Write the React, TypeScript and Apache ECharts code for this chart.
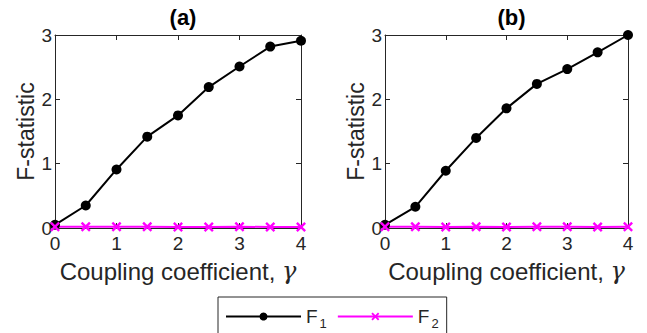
import React, { useEffect, useRef } from "react";
import * as echarts from "echarts";

const gammaValues = [0, 0.5, 1, 1.5, 2, 2.5, 3, 3.5, 4];
const f1A = [0.05, 0.35, 0.91, 1.42, 1.75, 2.19, 2.51, 2.82, 2.91];
const f2A = [0.02, 0.02, 0.02, 0.02, 0.015, 0.015, 0.02, 0.015, 0.015];
const f1B = [0.05, 0.33, 0.89, 1.4, 1.86, 2.24, 2.47, 2.73, 3.0];
const f2B = [0.02, 0.02, 0.015, 0.02, 0.015, 0.02, 0.02, 0.015, 0.02];
const panelTitles = ["(a)", "(b)"];
const seriesNames = ["F1", "F2"];

const FONT = "Liberation Sans";
const TXT = "#262626";
const CROSS =
  "path://M0,1.7L1.7,0L5,3.3L8.3,0L10,1.7L6.7,5L10,8.3L8.3,10L5,6.7L1.7,10L0,8.3L3.3,5Z";

export default function App() {
  const ref = useRef<HTMLDivElement>(null);
  useEffect(() => {
    if (!ref.current) return;
    const chart = echarts.init(ref.current, undefined, { renderer: "svg" });
    const grids = [
      { left: 55, top: 35, width: 246, height: 193 },
      { left: 385, top: 35, width: 243, height: 193 },
    ];
    const axisLine = { show: true, onZero: false, lineStyle: { color: TXT, width: 1 } };
    const tick = { show: true, inside: true, length: 5, lineStyle: { color: TXT } };
    const xAxes: any[] = [];
    const yAxes: any[] = [];
    grids.forEach((_, i) => {
      xAxes.push({
        type: "value",
        gridIndex: i,
        min: 0,
        max: 4,
        interval: 1,
        position: "bottom",
        axisLine,
        axisTick: tick,
        axisLabel: { color: TXT, fontSize: 19, fontFamily: FONT, margin: 6 },
        splitLine: { show: false },
        name: "{n|Coupling coefficient, }{g|γ}",
        nameLocation: "middle",
        nameGap: 31,
        nameTextStyle: {
          rich: {
            n: { fontSize: 24, fontFamily: FONT, color: TXT },
            g: { fontSize: 24, fontFamily: "DejaVu Serif", fontStyle: "italic", color: TXT },
          },
        },
      });
      xAxes.push({
        type: "value",
        gridIndex: i,
        min: 0,
        max: 4,
        interval: 1,
        position: "top",
        axisLine,
        axisTick: tick,
        axisLabel: { show: false },
        splitLine: { show: false },
      });
      yAxes.push({
        type: "value",
        gridIndex: i,
        min: 0,
        max: 3,
        interval: 1,
        position: "left",
        axisLine,
        axisTick: tick,
        axisLabel: { color: TXT, fontSize: 19, fontFamily: FONT, margin: 3 },
        splitLine: { show: false },
        name: "F-statistic",
        nameLocation: "middle",
        nameGap: 14,
        nameTextStyle: { fontSize: 23, fontFamily: FONT, color: TXT },
      });
      yAxes.push({
        type: "value",
        gridIndex: i,
        min: 0,
        max: 3,
        interval: 1,
        position: "right",
        axisLine,
        axisTick: tick,
        axisLabel: { show: false },
        splitLine: { show: false },
      });
    });
    const f1Data = [f1A, f1B];
    const f2Data = [f2A, f2B];
    const series: any[] = [];
    grids.forEach((_, i) => {
      series.push({
        name: seriesNames[0],
        type: "line",
        xAxisIndex: i * 2,
        yAxisIndex: i * 2,
        data: gammaValues.map((g, k) => [g, f1Data[i][k]]),
        symbol: "circle",
        symbolSize: 10,
        clip: false,
        itemStyle: { color: "#000000" },
        lineStyle: { color: "#000000", width: 2 },
      });
      series.push({
        name: seriesNames[1],
        type: "line",
        xAxisIndex: i * 2,
        yAxisIndex: i * 2,
        data: gammaValues.map((g, k) => [g, f2Data[i][k]]),
        symbol: CROSS,
        symbolSize: 10,
        clip: false,
        itemStyle: { color: "#FF00FF" },
        lineStyle: { color: "#FF00FF", width: 2 },
      });
    });
    chart.setOption({
      animation: false,
      backgroundColor: "#ffffff",
      title: panelTitles.map((t, i) => ({
        text: t,
        left: grids[i].left + grids[i].width / 2,
        top: 1,
        textAlign: "center",
        textStyle: { fontSize: 22, fontWeight: "bold", fontFamily: FONT, color: "#000" },
      })),
      grid: grids,
      xAxis: xAxes,
      yAxis: yAxes,
      legend: {
        data: seriesNames,
        left: 218,
        top: 297,
        orient: "horizontal",
        itemWidth: 75,
        itemHeight: 10,
        itemGap: 10,
        padding: [10, 8, 9, 7],
        borderColor: TXT,
        borderWidth: 1,
        backgroundColor: "#fff",
        formatter: (name: string) => `{a|F}{s|${name.slice(1)}}`,
        textStyle: {
          rich: {
            a: { fontSize: 19, fontFamily: FONT, color: TXT },
            s: { fontSize: 13, fontFamily: FONT, color: TXT, padding: [13, 0, 0, 2] },
          },
        },
      },
      series,
    });
    return () => chart.dispose();
  }, []);
  return <div ref={ref} style={{ width: 647, height: 333, position: "absolute", left: 0, top: 0 }} />;
}
